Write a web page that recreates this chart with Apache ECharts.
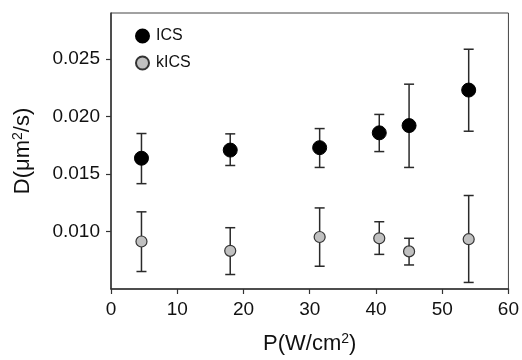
<!DOCTYPE html>
<html>
<head>
<meta charset="utf-8">
<script src="https://cdn.jsdelivr.net/npm/echarts@6/dist/echarts.min.js"></script>
<style>
html,body{margin:0;padding:0;background:#fff;}
#c{width:522px;height:360px;}
</style>
</head>
<body>
<div id="c"></div>
<script>
// Data
var power = [4.6, 18.0, 31.5, 40.5, 45.0, 54.0];
var icsMean = [0.01637, 0.01708, 0.01729, 0.01858, 0.01921, 0.02230];
var icsLow  = [0.01416, 0.01574, 0.01557, 0.01695, 0.01557, 0.01872];
var icsHigh = [0.01852, 0.01849, 0.01895, 0.02018, 0.02281, 0.02585];
var kicsMean = [0.00913, 0.00832, 0.00952, 0.00941, 0.00827, 0.00933];
var kicsLow  = [0.00652, 0.00626, 0.00698, 0.00801, 0.00709, 0.00557];
var kicsHigh = [0.01171, 0.01033, 0.01205, 0.01085, 0.00941, 0.01313];
var yTicks = [0.010, 0.015, 0.020, 0.025];
var xTicks = [0, 10, 20, 30, 40, 50, 60];

var FONT = '"Liberation Sans", Arial, sans-serif';

function pts(xs, ys) { return xs.map(function (x, i) { return [x, ys[i]]; }); }
function bars(xs, lo, hi) { return xs.map(function (x, i) { return [x, lo[i], hi[i]]; }); }

function errRender(params, api) {
  var x = api.value(0);
  var p1 = api.coord([x, api.value(1)]);
  var p2 = api.coord([x, api.value(2)]);
  var hw = 5;
  var st = { stroke: '#2a2a2a', lineWidth: 1.5 };
  return {
    type: 'group',
    children: [
      { type: 'line', shape: { x1: p1[0], y1: p1[1], x2: p2[0], y2: p2[1] }, style: st },
      { type: 'line', shape: { x1: p1[0] - hw, y1: p1[1], x2: p1[0] + hw, y2: p1[1] }, style: st },
      { type: 'line', shape: { x1: p2[0] - hw, y1: p2[1], x2: p2[0] + hw, y2: p2[1] }, style: st }
    ]
  };
}

var chart = echarts.init(document.getElementById('c'), null, { renderer: 'canvas' });
chart.setOption({
  animation: false,
  backgroundColor: '#fff',
  textStyle: { fontFamily: FONT },
  grid: {
    left: 111, right: 12, top: 13, bottom: 68,
    show: true, borderColor: '#444', borderWidth: 1, backgroundColor: 'transparent'
  },
  legend: {
    orient: 'vertical', left: 135, top: 28, itemGap: 11,
    itemWidth: 13, itemHeight: 13, padding: 0,
    data: ['ICS', 'kICS'],
    textStyle: { fontFamily: FONT, fontSize: 16, color: '#111', padding: [0, 0, 0, 2] }
  },
  xAxis: {
    type: 'value', min: 0, max: 60, interval: 10,
    name: 'P(W/cm{s|2})', nameLocation: 'middle', nameGap: 43,
    nameTextStyle: {
      fontFamily: FONT, fontSize: 22, color: '#111',
      rich: { s: { fontFamily: FONT, fontSize: 14, verticalAlign: 'top', padding: [0, 0, 10, 0], color: '#111' } }
    },
    axisLine: { show: true, lineStyle: { color: '#333', width: 1.5 } },
    axisTick: { show: true, inside: false, length: 5, lineStyle: { color: '#333', width: 1.2 }, customValues: xTicks },
    axisLabel: { fontFamily: FONT, fontSize: 19, color: '#111', margin: 11, customValues: xTicks },
    splitLine: { show: false }
  },
  yAxis: {
    type: 'value', min: 0.005, max: 0.029,
    name: 'D(\u03bcm{s|2}/s)', nameLocation: 'middle', nameGap: 76, nameRotate: 90,
    nameTextStyle: {
      fontFamily: FONT, fontSize: 22, color: '#111',
      rich: { s: { fontFamily: FONT, fontSize: 14, verticalAlign: 'top', padding: [0, 0, 10, 0], color: '#111' } }
    },
    axisLine: { show: true, lineStyle: { color: '#333', width: 1.5 } },
    axisTick: { show: true, inside: false, length: 5, lineStyle: { color: '#333', width: 1.2 }, customValues: yTicks },
    axisLabel: {
      fontFamily: FONT, fontSize: 19, color: '#111', margin: 11, customValues: yTicks,
      formatter: function (v) { return v.toFixed(3); }
    },
    splitLine: { show: false }
  },
  series: [
    {
      type: 'custom', name: 'icsErr', renderItem: errRender, z: 2,
      encode: { x: 0, y: [1, 2] }, data: bars(power, icsLow, icsHigh), silent: true
    },
    {
      type: 'custom', name: 'kicsErr', renderItem: errRender, z: 2,
      encode: { x: 0, y: [1, 2] }, data: bars(power, kicsLow, kicsHigh), silent: true
    },
    {
      type: 'scatter', name: 'ICS', symbol: 'circle', symbolSize: 14, z: 5,
      itemStyle: { color: '#000', borderColor: '#000', borderWidth: 1, opacity: 1 },
      data: pts(power, icsMean)
    },
    {
      type: 'scatter', name: 'kICS', symbol: 'circle', symbolSize: 11, z: 5,
      itemStyle: { color: '#c0c0c0', borderColor: '#333', borderWidth: 1.2, opacity: 1 },
      data: pts(power, kicsMean)
    }
  ]
});
</script>
</body>
</html>
